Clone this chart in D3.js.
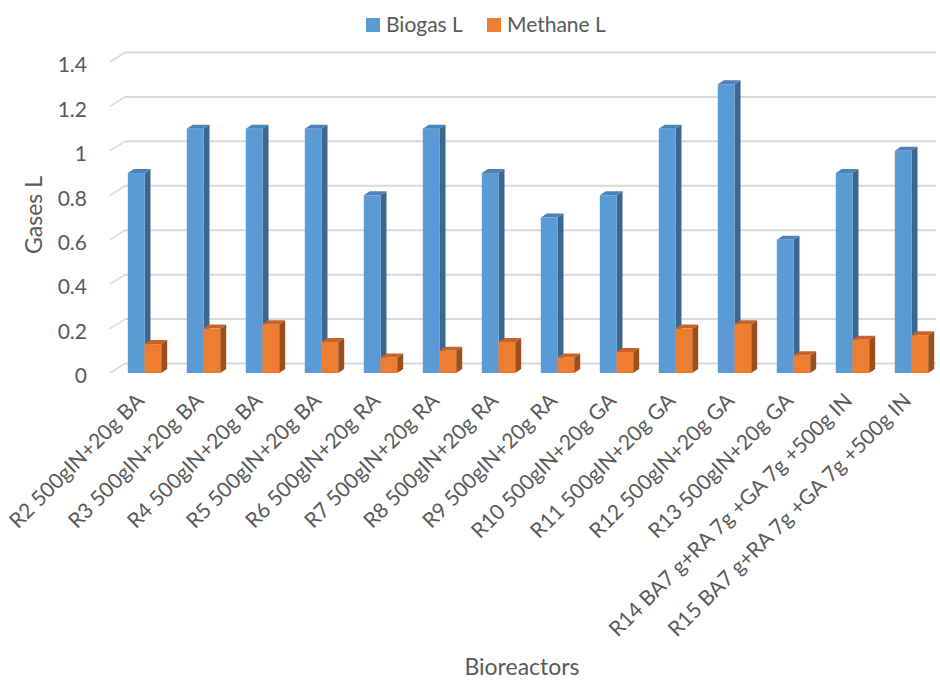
<!DOCTYPE html>
<html>
<head>
<meta charset="utf-8">
<script src="https://cdn.jsdelivr.net/npm/d3@7"></script>
<style>
  html, body { margin: 0; padding: 0; background: #fff; }
  svg { display: block; }
  text { font-family: Lato, "Open Sans", sans-serif; fill: #595959; }
</style>
</head>
<body>
<svg id="chart" width="940" height="681"></svg>
<script>
const categories = [
  "R2 500gIN+20g BA", "R3 500gIN+20g BA", "R4 500gIN+20g BA", "R5 500gIN+20g BA",
  "R6 500gIN+20g RA", "R7 500gIN+20g RA", "R8 500gIN+20g RA", "R9 500gIN+20g RA",
  "R10 500gIN+20g GA", "R11 500gIN+20g GA", "R12 500gIN+20g GA", "R13 500gIN+20g GA",
  "R14 BA7 g+RA 7g +GA 7g +500g IN", "R15 BA7 g+RA 7g +GA 7g +500g IN"
];
const seriesNames = ["Biogas L", "Methane L"];
const biogas  = [0.9, 1.1, 1.1, 1.1, 0.8, 1.1, 0.9, 0.7, 0.8, 1.1, 1.3, 0.6, 0.9, 1.0];
const methane = [0.13, 0.2, 0.22, 0.14, 0.07, 0.1, 0.14, 0.07, 0.095, 0.2, 0.22, 0.08, 0.15, 0.17];
const yTicks = [0, 0.2, 0.4, 0.6, 0.8, 1, 1.2, 1.4];
const yTitle = "Gases L";
const xTitle = "Bioreactors";

const colors = {
  "Biogas L":  { front: "#5B9BD5", top: "#4C82B8", side: "#3B6690" },
  "Methane L": { front: "#ED7D31", top: "#C6622A", side: "#9C4E1D" }
};

const svg = d3.select("#chart");

// scales
const yFront = d3.scaleLinear().domain([0, 1.4]).range([373, 62]);
const wallDX = 15, wallDY = -9.5;      // back wall offset
const barDX = 6, barDY = -4;           // bar depth offset
const x0 = d3.scaleBand().domain(categories).range([115, 941]);
const groupW = 33.4;
const x1 = d3.scaleBand().domain(seriesNames).range([0, groupW]);

// gridlines + floor diagonals
const grid = svg.append("g");
yTicks.forEach(t => {
  const yb = yFront(t) + wallDY;
  grid.append("line")
    .attr("x1", 110 + wallDX).attr("x2", 936)
    .attr("y1", yb).attr("y2", yb)
    .attr("stroke", "#D9D9D9").attr("stroke-width", 2);
  grid.append("line")
    .attr("x1", 110).attr("y1", yb - wallDY)
    .attr("x2", 110 + wallDX).attr("y2", yb)
    .attr("stroke", "#D9D9D9").attr("stroke-width", 1.5);
});

// y axis labels
const yAxis = d3.axisLeft(yFront).tickValues(yTicks).tickSize(0).tickPadding(0)
  .tickFormat(d => String(d));
const yg = svg.append("g").attr("transform", "translate(87,3)").call(yAxis);
yg.select(".domain").remove();
yg.selectAll("text").style("font-size", "21px").attr("fill", "#595959")
  .style("font-family", "Lato, sans-serif");

// bars
const data = categories.map((c, i) => ({ cat: c, vals: [
  { s: "Biogas L", v: biogas[i] }, { s: "Methane L", v: methane[i] } ] }));

const bars = svg.append("g");
data.forEach(d => {
  const gx = x0(d.cat) + (x0.bandwidth() - groupW) / 2;
  d.vals.forEach(b => {
    const x = gx + x1(b.s), w = x1.bandwidth();
    const yT = yFront(b.v), yB = yFront(0);
    const c = colors[b.s];
    const g = bars.append("g");
    g.append("polygon")
      .attr("points", [[x + w, yT], [x + w + barDX, yT + barDY], [x + w + barDX, yB + barDY], [x + w, yB]].map(p => p.join(",")).join(" "))
      .attr("fill", c.side);
    g.append("polygon")
      .attr("points", [[x, yT], [x + barDX, yT + barDY], [x + w + barDX, yT + barDY], [x + w, yT]].map(p => p.join(",")).join(" "))
      .attr("fill", c.top);
    g.append("rect")
      .attr("x", x).attr("y", yT).attr("width", w).attr("height", yB - yT)
      .attr("fill", c.front);
  });
});

// x labels
const xl = svg.append("g");
categories.forEach(c => {
  const cx = x0(c) + x0.bandwidth() / 2 + 1;
  xl.append("text")
    .attr("transform", `translate(${cx},402) rotate(-45)`)
    .attr("text-anchor", "end")
    .style("font-size", "21px")
    .text(c);
});

// axis titles
svg.append("text")
  .attr("transform", "translate(42,215) rotate(-90)")
  .attr("text-anchor", "middle")
  .style("font-size", "23px")
  .text(yTitle);
svg.append("text")
  .attr("x", 522).attr("y", 675)
  .attr("text-anchor", "middle")
  .style("font-size", "23px")
  .text(xTitle);

// legend
const legendX = [366, 487];
seriesNames.forEach((s, i) => {
  svg.append("rect").attr("x", legendX[i]).attr("y", 18).attr("width", 14).attr("height", 14)
    .attr("fill", colors[s].front);
  svg.append("text").attr("x", legendX[i] + 20).attr("y", 32)
    .style("font-size", "21px").text(s);
});
</script>
</body>
</html>
